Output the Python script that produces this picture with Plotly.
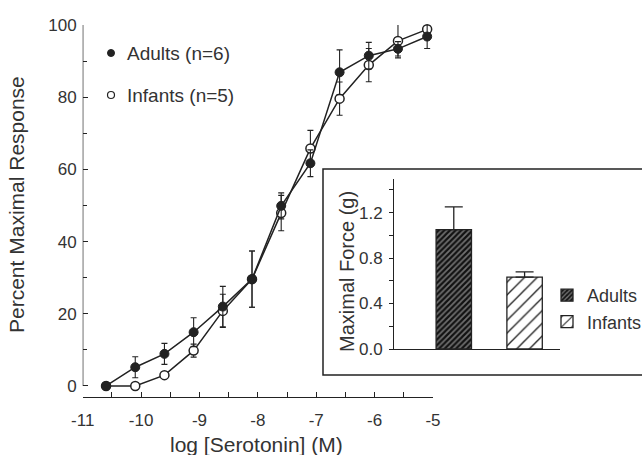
import plotly.graph_objects as go

# ---------------- data ----------------
log_conc = [-10.6, -10.1, -9.6, -9.1, -8.6, -8.1, -7.6, -7.1, -6.6, -6.1, -5.6, -5.1]
adults_resp = [0, 5.2, 8.9, 14.9, 22.0, 29.6, 49.9, 61.7, 86.9, 91.5, 93.4, 96.8]
adults_err = [0, 2.9, 2.9, 4.0, 5.6, 7.8, 3.6, 3.7, 6.2, 3.7, 2.0, 3.3]
infants_resp = [0, 0, 3.0, 9.8, 20.8, 29.6, 47.9, 65.8, 79.6, 88.9, 95.6, 98.8]
infants_err = [0, 0, 0.8, 1.8, 4.6, 7.8, 4.9, 5.0, 4.6, 4.6, 4.7, 1.0]

groups = ["Adults", "Infants"]
max_force = [1.05, 0.633]
max_force_err = [0.20, 0.045]

x_ticks = [-11, -10, -9, -8, -7, -6, -5]

W, H = 642, 455
INK = "#222222"
TXT = "#333333"
FONT = "Liberation Sans, Arial, Helvetica, sans-serif"


def px_x(p):
    return p / W


def px_y(p):
    return 1 - p / H


fig = go.Figure()

# main curves
fig.add_trace(go.Scatter(
    x=log_conc, y=infants_resp, mode="lines+markers", name="Infants (n=5)",
    line=dict(color=INK, width=1.5),
    marker=dict(symbol="circle", size=9, color="white", line=dict(color=INK, width=1.5)),
    error_y=dict(type="data", array=infants_err, color=INK, thickness=1.1, width=3),
    showlegend=False, xaxis="x", yaxis="y", cliponaxis=False,
))
fig.add_trace(go.Scatter(
    x=log_conc, y=adults_resp, mode="lines+markers", name="Adults (n=6)",
    line=dict(color=INK, width=1.5),
    marker=dict(symbol="circle", size=9, color=INK, line=dict(color=INK, width=1)),
    error_y=dict(type="data", array=adults_err, color=INK, thickness=1.1, width=3),
    showlegend=False, xaxis="x", yaxis="y", cliponaxis=False,
))

# inset bars
bar_patterns = [
    dict(shape="/", fgcolor="#111111", bgcolor="#6f6f6f", size=4, solidity=0.55),
    dict(shape="/", fgcolor=INK, bgcolor="white", size=9, solidity=0.15),
]
for i, g in enumerate(groups):
    fig.add_trace(go.Bar(
        x=[i], y=[max_force[i]], name=g, width=0.5,
        marker=dict(color="white", line=dict(color=INK, width=1.3), pattern=bar_patterns[i]),
        error_y=dict(type="data", array=[max_force_err[i]], arrayminus=[0], symmetric=False,
                     color=INK, thickness=1.3, width=9),
        xaxis="x2", yaxis="y2", showlegend=True, legendgroup=g,
    ))

fig.update_layout(
    template="none",
    width=W, height=H,
    margin=dict(l=0, r=0, t=0, b=0, pad=0, autoexpand=False),
    paper_bgcolor="white", plot_bgcolor="rgba(0,0,0,0)",
    font=dict(family=FONT, color=TXT, size=17),
    xaxis=dict(
        domain=[px_x(82.7), px_x(433)], range=[-11, -5], automargin=False,
        tickmode="array", tickvals=x_ticks, ticktext=[str(v) for v in x_ticks],
        ticks="inside", ticklen=5, tickwidth=1.2, tickcolor=INK,
        minor=dict(dtick=0.5, tick0=-11, ticks="inside", ticklen=5, tickwidth=1.2, tickcolor=INK),
        showline=True, linecolor=INK, linewidth=1.3,
        showgrid=False, zeroline=False, ticklabelstandoff=7,
        tickfont=dict(size=17, color=TXT),
    ),
    yaxis=dict(
        domain=[px_y(397), px_y(25)], range=[-3.05, 100], automargin=False,
        tick0=0, dtick=20,
        ticks="inside", ticklen=5, tickwidth=1.2, tickcolor=INK,
        minor=dict(dtick=10, tick0=0, ticks="inside", ticklen=4, tickwidth=1.2, tickcolor=INK),
        showline=False, showgrid=False, zeroline=False, ticklabelstandoff=5,
        tickfont=dict(size=17, color=TXT),
    ),
    xaxis2=dict(
        domain=[px_x(394.3), px_x(560)], range=[-0.84, 1.5], anchor="y2", automargin=False,
        showticklabels=False, ticks="", showline=True, linecolor=INK, linewidth=1.3,
        showgrid=False, zeroline=False,
    ),
    yaxis2=dict(
        domain=[px_y(349), px_y(178.5)], range=[0, 1.5], anchor="x2", automargin=False,
        tick0=0, dtick=0.4, tickformat=".1f",
        ticks="outside", ticklen=4, tickwidth=1.2, tickcolor=INK,
        minor=dict(dtick=0.2, tick0=0, ticks="outside", ticklen=4, tickwidth=1.2, tickcolor=INK),
        showline=True, linecolor=INK, linewidth=1.3,
        showgrid=False, zeroline=False, ticklabelstandoff=3,
        tickfont=dict(size=17, color=TXT),
    ),
    legend=dict(
        x=px_x(547), y=px_y(277), xanchor="left", yanchor="top",
        font=dict(size=18, color=TXT, family=FONT), bgcolor="rgba(0,0,0,0)",
        tracegroupgap=4, traceorder="normal", borderwidth=0,
    ),
    showlegend=True,
)

shapes = [
    # main y axis line (only from 0 to 100)
    dict(type="line", xref="x", yref="y", x0=-11, x1=-11, y0=0, y1=100,
         line=dict(color=INK, width=1.3)),
    # inset frame
    dict(type="rect", xref="paper", yref="paper",
         x0=px_x(323), x1=px_x(700), y0=px_y(375), y1=px_y(169),
         line=dict(color=INK, width=1.5), fillcolor="rgba(0,0,0,0)"),
    # main legend markers
    dict(type="circle", xref="paper", yref="paper", xsizemode="pixel", ysizemode="pixel",
         xanchor=px_x(111), yanchor=px_y(53), x0=-3.5, x1=3.5, y0=-3.5, y1=3.5,
         fillcolor=INK, line=dict(color=INK, width=1)),
    dict(type="circle", xref="paper", yref="paper", xsizemode="pixel", ysizemode="pixel",
         xanchor=px_x(111), yanchor=px_y(95), x0=-3.5, x1=3.5, y0=-3.5, y1=3.5,
         fillcolor="white", line=dict(color=INK, width=1.2)),
]
fig.update_layout(shapes=shapes)

annotations = [
    dict(text="Adults (n=6)", x=px_x(125), y=px_y(53), xref="paper", yref="paper",
         xanchor="left", yanchor="middle", showarrow=False, font=dict(size=19, color=TXT)),
    dict(text="Infants (n=5)", x=px_x(125), y=px_y(95), xref="paper", yref="paper",
         xanchor="left", yanchor="middle", showarrow=False, font=dict(size=19, color=TXT)),
    dict(text="log [Serotonin] (M)", x=px_x(256), y=px_y(444), xref="paper", yref="paper",
         xanchor="center", yanchor="middle", showarrow=False, font=dict(size=21, color=TXT)),
    dict(text="Percent Maximal Response", x=px_x(17), y=px_y(205), xref="paper", yref="paper",
         xanchor="center", yanchor="middle", showarrow=False, textangle=-90,
         font=dict(size=21, color=TXT)),
    dict(text="Maximal Force (g)", x=px_x(347), y=px_y(272), xref="paper", yref="paper",
         xanchor="center", yanchor="middle", showarrow=False, textangle=-90,
         font=dict(size=20, color=TXT)),
]
fig.update_layout(annotations=annotations)

fig.write_html("out.html")
